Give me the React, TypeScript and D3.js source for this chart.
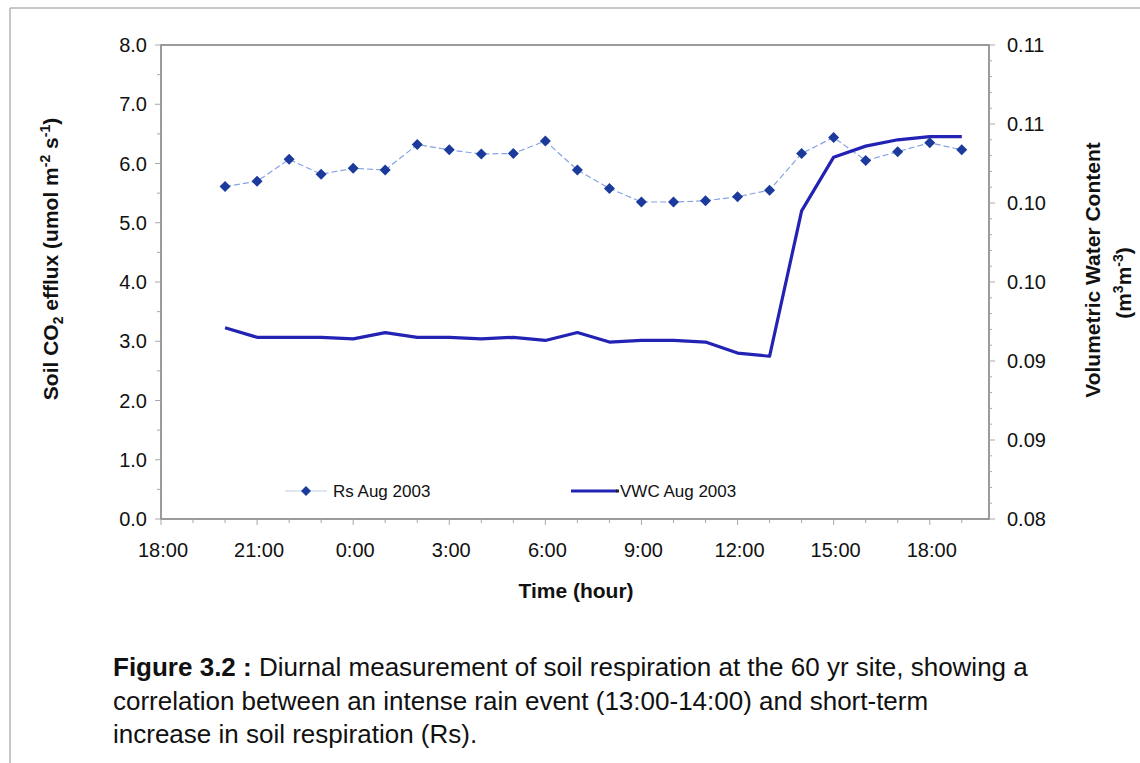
import React from "react";
import * as d3 from "d3";

// ---- data ----
const hoursSince1800 = [2, 3, 4, 5, 6, 7, 8, 9, 10, 11, 12, 13, 14, 15, 16, 17, 18, 19, 20, 21, 22, 23, 24, 25];
const rsValues = [5.61, 5.7, 6.07, 5.82, 5.92, 5.89, 6.32, 6.23, 6.16, 6.17, 6.38, 5.89, 5.58, 5.35, 5.35, 5.37, 5.44, 5.55, 6.17, 6.44, 6.05, 6.2, 6.35, 6.23];
const vwcValues = [0.0921, 0.0915, 0.0915, 0.0915, 0.0914, 0.0918, 0.0915, 0.0915, 0.0914, 0.0915, 0.0913, 0.0918, 0.0912, 0.0913, 0.0913, 0.0912, 0.0905, 0.0903, 0.0995, 0.1029, 0.1036, 0.104, 0.1042, 0.1042];
const xTickHours = [0, 3, 6, 9, 12, 15, 18, 21, 24];
const xTickLabels = ["18:00", "21:00", "0:00", "3:00", "6:00", "9:00", "12:00", "15:00", "18:00"];
const leftTicks = [0, 1, 2, 3, 4, 5, 6, 7, 8];
const rightTicks = [0.08, 0.085, 0.09, 0.095, 0.1, 0.105, 0.11];
const rightTickLabels = ["0.08", "0.09", "0.09", "0.10", "0.10", "0.11", "0.11"];
const seriesNames = ["Rs Aug 2003", "VWC Aug 2003"];

const W = 1140;
const H = 763;
const plot = { left: 161, right: 989, top: 45, bottom: 519 };
const FONT = "'Liberation Sans', Arial, sans-serif";
const DIAMOND = "#1b3a9c";
const VWC_COLOR = "#2222b4";
const RS_LINE = "#86a4e0";
const AXIS = "#7a7a7a";

export default function App() {
  const x = d3.scaleLinear().domain([0, 25.85]).range([plot.left, plot.right]);
  const yL = d3.scaleLinear().domain([0, 8]).range([plot.bottom, plot.top]);
  const yR = d3.scaleLinear().domain([0.08, 0.11]).range([plot.bottom, plot.top]);

  const rsLine = d3
    .line<number>()
    .x((_, i) => x(hoursSince1800[i]))
    .y((d) => yL(d));
  const vwcLine = d3
    .line<number>()
    .x((_, i) => x(hoursSince1800[i]))
    .y((d) => yR(d));

  const diamond = (cx: number, cy: number, r: number) =>
    `M${cx},${cy - r}L${cx + r},${cy}L${cx},${cy + r}L${cx - r},${cy}Z`;

  const leftMinor = d3.range(0, 8.01, 0.5);
  const rightMinor = d3.range(0.08, 0.11001, 0.001);
  const xMinor = d3.range(0, 26, 1);

  return (
    <svg
      width={W}
      height={H}
      style={{ position: "absolute", left: 0, top: 0, background: "#fff" }}
      fontFamily={FONT}
    >
      <rect x={0} y={0} width={W} height={H} fill="#fff" />
      {/* outer page border */}
      <line x1={10} y1={8} x2={W} y2={8} stroke="#b5b5b5" strokeWidth={1.5} />
      <line x1={10} y1={8} x2={10} y2={H} stroke="#b5b5b5" strokeWidth={1.5} />

      {/* plot frame */}
      <rect
        x={plot.left}
        y={plot.top}
        width={plot.right - plot.left}
        height={plot.bottom - plot.top}
        fill="#fff"
        stroke={AXIS}
        strokeWidth={1.5}
      />

      {/* left ticks */}
      {leftMinor.map((v, i) => (
        <line key={"lm" + i} x1={plot.left - (i % 2 === 0 ? 6 : 4)} x2={plot.left} y1={yL(v)} y2={yL(v)} stroke="#a8a8a8" strokeWidth={1} />
      ))}
      {leftTicks.map((v) => (
        <text key={"lt" + v} x={147} y={yL(v)} dy="0.35em" textAnchor="end" fontSize={20} fill="#111">
          {v.toFixed(1)}
        </text>
      ))}

      {/* right ticks */}
      {rightMinor.map((v, i) => (
        <line key={"rm" + i} x1={plot.right} x2={plot.right + (i % 5 === 0 ? 6 : 3)} y1={yR(v)} y2={yR(v)} stroke="#a8a8a8" strokeWidth={1} />
      ))}
      {rightTicks.map((v, i) => (
        <text key={"rt" + i} x={1007} y={yR(v)} dy="0.35em" textAnchor="start" fontSize={20} fill="#111">
          {rightTickLabels[i]}
        </text>
      ))}

      {/* x ticks */}
      {xMinor.map((h) => (
        <line key={"xm" + h} x1={x(h)} x2={x(h)} y1={plot.bottom} y2={plot.bottom + (h % 3 === 0 ? 6 : 4)} stroke="#a8a8a8" strokeWidth={1} />
      ))}
      {xTickHours.map((h, i) => (
        <text key={"xt" + i} x={x(h) + 2} y={557} textAnchor="middle" fontSize={20} fill="#111">
          {xTickLabels[i]}
        </text>
      ))}

      {/* axis titles */}
      <text x={576} y={598} textAnchor="middle" fontSize={21} fontWeight="bold" fill="#111">
        Time (hour)
      </text>
      <text transform="translate(58,259) rotate(-90)" textAnchor="middle" fontSize={21} fontWeight="bold" fill="#111">
        Soil CO<tspan fontSize={14} dy={5}>2</tspan>
        <tspan dy={-5}> efflux (umol m</tspan>
        <tspan fontSize={14} dy={-8}>-2</tspan>
        <tspan dy={8}> s</tspan>
        <tspan fontSize={14} dy={-8}>-1</tspan>
        <tspan dy={8}>)</tspan>
      </text>
      <text transform="translate(1100,270) rotate(-90)" textAnchor="middle" fontSize={21} fontWeight="bold" fill="#111">
        Volumetric Water Content
      </text>
      <text transform="translate(1131,283) rotate(-90)" textAnchor="middle" fontSize={21} fontWeight="bold" fill="#111">
        (m<tspan fontSize={14} dy={-8}>3</tspan>
        <tspan dy={8}>m</tspan>
        <tspan fontSize={14} dy={-8}>-3</tspan>
        <tspan dy={8}>)</tspan>
      </text>

      {/* series */}
      <path d={rsLine(rsValues) || ""} fill="none" stroke={RS_LINE} strokeWidth={1.2} strokeDasharray="6,3" />
      <path d={vwcLine(vwcValues) || ""} fill="none" stroke={VWC_COLOR} strokeWidth={3.2} strokeLinejoin="round" />
      {rsValues.map((v, i) => (
        <path key={"d" + i} d={diamond(x(hoursSince1800[i]), yL(v), 5.5)} fill={DIAMOND} />
      ))}

      {/* legend */}
      <line x1={285} x2={327} y1={491} y2={491} stroke="#c0cfee" strokeWidth={1.2} />
      <path d={diamond(306, 491, 5)} fill={DIAMOND} />
      <text x={333} y={491} dy="0.35em" fontSize={17} fill="#111">
        {seriesNames[0]}
      </text>
      <line x1={571} x2={617} y1={491} y2={491} stroke={VWC_COLOR} strokeWidth={3} />
      <rect x={616} y={489.5} width={3} height={3} fill="#222" />
      <text x={620} y={491} dy="0.35em" fontSize={17} fill="#111">
        {seriesNames[1]}
      </text>

      {/* caption */}
      <text x={113} y={676} fontSize={26} fill="#111">
        <tspan fontWeight="bold">Figure 3.2 :</tspan> Diurnal measurement of soil respiration at the 60 yr site, showing a
      </text>
      <text x={113} y={710} fontSize={26} fill="#111">
        correlation between an intense rain event (13:00-14:00) and short-term
      </text>
      <text x={113} y={743} fontSize={26} fill="#111">
        increase in soil respiration (Rs).
      </text>
    </svg>
  );
}
